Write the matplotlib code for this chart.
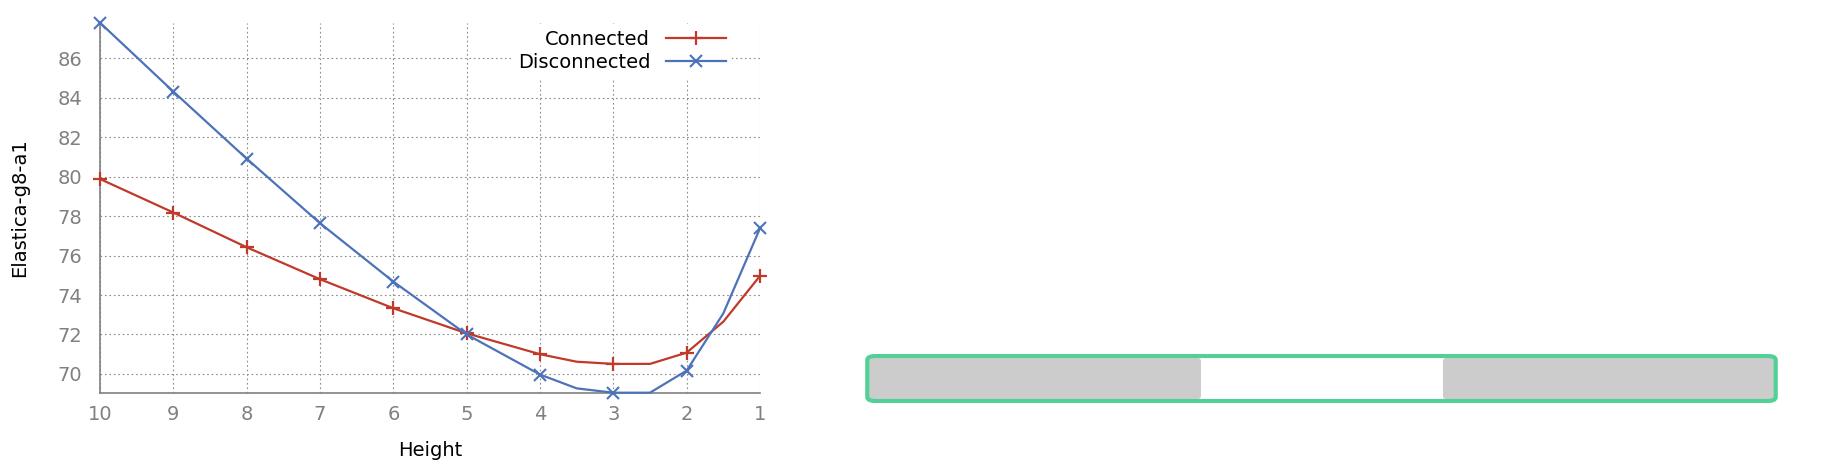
import matplotlib
matplotlib.use("Agg")
import matplotlib.pyplot as plt
from matplotlib.patches import FancyBboxPatch

# Datos
heights = [10, 9, 8, 7, 6, 5, 4, 3.5, 3, 2.5, 2, 1.5, 1]
connected = [79.88, 78.18, 76.42, 74.8, 73.33, 72.06, 71.0, 70.62, 70.51, 70.51, 71.08, 72.65, 74.97]
disconnected = [87.8, 84.31, 80.91, 77.64, 74.68, 72.0, 69.97, 69.27, 69.05, 69.05, 70.17, 73.07, 77.38]
marker_idx = [0, 1, 2, 3, 4, 5, 6, 8, 10, 12]   # solo en alturas enteras
yticks = [70, 72, 74, 76, 78, 80, 82, 84, 86]
xticks = [10, 9, 8, 7, 6, 5, 4, 3, 2, 1]

# rango del control deslizante (fraccion)
slider_lo, slider_hi = 0.368, 0.633

RED = "#c0392b"
BLUE = "#4c73b9"
GRAY = "#808080"
FS = 14

fig = plt.figure(figsize=(18.4, 4.67), dpi=100)
ax = fig.add_axes([100 / 1840, 1 - 392.7 / 467, 660 / 1840, 370 / 467])

ax.plot(heights, connected, color=RED, lw=1.6, marker="+", ms=10, mew=1.6,
        markevery=marker_idx, label="Connected", clip_on=False, zorder=3)
ax.plot(heights, disconnected, color=BLUE, lw=1.6, marker="x", ms=8.5, mew=1.5,
        markevery=marker_idx, label="Disconnected", clip_on=False, zorder=3)

ax.set_xlim(10, 1)
ax.set_ylim(min(disconnected + connected), max(disconnected + connected))
ax.set_xticks(xticks)
ax.set_yticks(yticks)
ax.tick_params(length=0, labelsize=FS, labelcolor=GRAY)
ax.tick_params(axis="x", pad=9)
ax.tick_params(axis="y", pad=13)
ax.grid(True, color="#8a8a8a", lw=0.8, linestyle=(0, (1.5, 2.5)))
for s in ["top", "right"]:
    ax.spines[s].set_visible(False)
for s in ["left", "bottom"]:
    ax.spines[s].set_color(GRAY)
    ax.spines[s].set_linewidth(1.2)
    ax.spines[s].set_zorder(2.5)

ax.set_xlabel("Height", fontsize=FS, labelpad=12)
ax.set_ylabel("Elastica-g8-a1", fontsize=FS, labelpad=20)

leg = ax.legend(loc="upper right", bbox_to_anchor=(0.972, 1.022), fontsize=FS,
                markerfirst=False, frameon=True, fancybox=False, framealpha=1,
                edgecolor="none", facecolor="white", handlelength=3.1,
                handletextpad=0.8, labelspacing=0.2, borderpad=0.3)
leg.set_zorder(2)

# control deslizante de la derecha
sax = fig.add_axes([865 / 1840, 1 - 403 / 467, 913 / 1840, 49 / 467])
sax.set_xlim(0, 1)
sax.set_ylim(0, 1)
sax.axis("off")
sax.add_patch(FancyBboxPatch((0.004, 0.06), slider_lo - 0.004, 0.88,
                             boxstyle="round,pad=0,rounding_size=0.01",
                             mutation_aspect=8, fc="#cccccc", ec="none"))
sax.add_patch(FancyBboxPatch((slider_hi, 0.06), 0.996 - slider_hi, 0.88,
                             boxstyle="round,pad=0,rounding_size=0.01",
                             mutation_aspect=8, fc="#cccccc", ec="none"))
sax.add_patch(FancyBboxPatch((0.0025, 0.04), 0.995, 0.92,
                             boxstyle="round,pad=0,rounding_size=0.01",
                             mutation_aspect=8, fc="none", ec="#52d196", lw=3))

fig.savefig("out.png", dpi=100)
